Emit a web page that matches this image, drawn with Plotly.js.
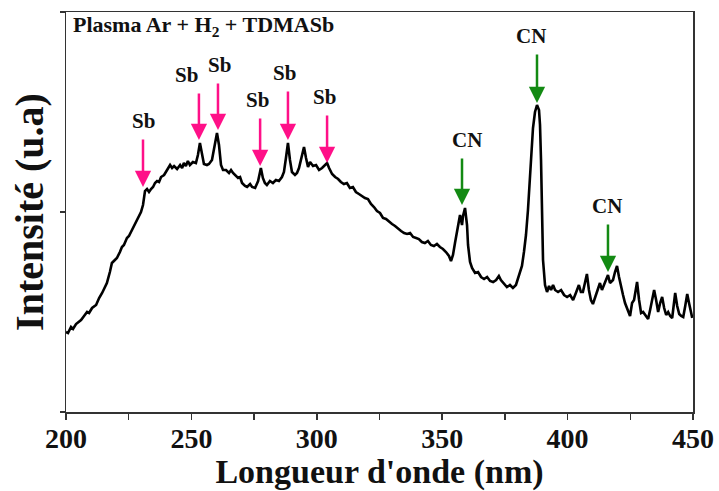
<!DOCTYPE html>
<html>
<head>
<meta charset="utf-8">
<script src="https://cdn.plot.ly/plotly-3.0.1.min.js"></script>
<style>html,body{margin:0;padding:0;background:#fff;}#chart{width:719px;height:491px;}</style>
</head>
<body>
<div id="chart"></div>
<script>
// Spectrum: wavelength (nm) and intensity (a.u.)
const wavelength = [200.0,200.8,202.0,202.8,204.0,205.2,206.0,207.2,208.4,209.2,210.4,212.0,213.2,214.4,215.6,216.3,217.5,218.3,219.5,220.3,221.5,222.3,223.1,224.3,225.1,225.9,227.1,228.3,229.1,229.9,230.7,231.5,232.3,233.1,233.9,234.7,235.5,236.3,237.1,237.9,239.1,240.3,241.5,242.3,243.1,244.3,245.5,246.3,247.0,247.8,248.6,249.4,250.6,251.8,252.6,253.4,254.2,255.0,256.2,257.0,258.2,259.4,260.2,261.0,261.8,262.6,263.8,265.0,265.8,266.6,267.8,268.6,269.4,270.2,271.4,272.2,273.4,274.2,275.4,276.6,277.7,278.5,279.3,280.1,281.3,282.5,283.7,284.9,286.1,286.9,287.7,288.5,289.3,290.1,291.3,292.1,292.9,294.1,294.9,295.7,296.5,297.3,298.5,299.7,300.9,302.1,303.3,304.1,304.9,306.1,307.3,308.5,309.6,310.8,312.0,313.2,314.4,315.6,316.8,318.0,319.2,320.4,321.6,322.8,324.0,325.2,326.4,327.6,328.8,330.0,331.2,332.4,333.6,334.8,336.0,337.2,338.4,339.6,340.7,341.9,343.1,344.3,345.5,346.7,347.9,349.1,350.3,351.5,352.7,353.5,354.3,355.1,355.9,356.7,357.1,357.9,358.3,359.1,359.9,360.3,361.1,361.9,363.1,364.3,365.5,366.7,367.9,369.1,370.3,371.5,372.6,373.4,374.6,375.8,377.0,378.2,379.4,380.6,381.8,382.6,383.4,384.2,385.0,385.8,386.2,387.0,387.8,388.6,389.0,389.4,389.8,390.2,391.0,391.8,392.6,393.4,394.2,395.0,396.2,397.4,398.6,399.8,401.0,402.2,403.3,404.5,405.3,406.1,406.9,407.7,408.5,409.3,410.1,411.3,412.1,412.9,413.7,414.9,416.1,416.9,418.1,418.9,419.7,420.5,421.3,422.1,422.9,424.1,424.9,425.7,426.5,427.3,427.7,428.5,429.3,430.1,431.3,432.1,432.9,433.7,434.5,435.3,436.1,436.9,437.7,438.5,439.3,440.1,440.9,441.7,442.5,442.9,443.7,444.5,445.3,446.1,446.9,447.7,448.5,449.3,449.7];
const intensity = [80,79,85,83,88,90,92,96,100,99,104,107,114,119,125,129,140,149,152,154,160,165,167,174,176,180,186,192,195,200,207,221,223,220,223,225,229,231,230,235,237,242,247,244,246,243,247,244,249,246,251,247,250,249,257,269,257,248,247,248,252,267,279,267,247,242,242,239,242,239,236,234,235,229,226,225,228,225,224,231,244,234,229,227,231,229,232,231,235,240,254,269,252,240,237,239,244,257,265,254,245,250,246,247,242,244,247,249,244,238,235,233,230,228,229,224,225,220,218,216,214,213,208,205,201,199,194,193,190,188,186,183,181,179,178,179,175,174,173,170,169,171,167,166,168,165,163,160,156,151,157,169,182,195,197,187,196,204,187,167,150,144,139,140,135,133,135,131,130,132,136,132,128,125,127,124,127,136,146,160,177,202,232,262,284,300,307,302,287,252,202,152,127,120,126,122,127,122,120,122,117,115,117,112,119,127,120,120,129,138,122,112,108,117,124,129,122,130,137,129,132,140,146,135,124,117,109,100,96,109,112,124,130,112,99,100,96,93,102,112,122,112,100,109,115,104,97,100,96,94,112,119,106,98,96,95,106,118,108,98,94];

// Peak identifications
const peakLabels = ["Sb","Sb","Sb","Sb","Sb","Sb","CN","CN","CN"];
const peakWavelength = [230.7,253.0,260.6,277.4,288.5,304.1,357.9,387.8,416.1];
const peakIntensity = [225,272,282,246,272,249,207,309,140];

const xTickVals = [200,250,300,350,400,450];
const xTickText = ["200","250","300","350","400","450"];

const titleText = "Plasma Ar + H<sub>2</sub> + TDMASb";
const xTitle = "Longueur d'onde (nm)";
const yTitle = "Intensité (u.a)";

const serif = "Liberation Serif, Times New Roman, serif";
const pink = "#ff1088";
const green = "#138a13";
const labelDx = [0,-12,2,-3,-3,-3,5,-6,-1];
const arrowLen = [49,48,48,49,50,49,48,50,49];

const annotations = [];
peakLabels.forEach((lab, i) => {
  const col = lab === "Sb" ? pink : green;
  annotations.push({
    x: peakWavelength[i], y: peakIntensity[i], xref: 'x', yref: 'y',
    text: '', showarrow: true, ax: 0, ay: -arrowLen[i],
    arrowcolor: col, arrowwidth: 2.5, arrowhead: 2, arrowsize: 1.3, standoff: 0
  });
  annotations.push({
    x: peakWavelength[i], y: peakIntensity[i], xref: 'x', yref: 'y',
    text: lab, showarrow: false, xshift: labelDx[i], yshift: arrowLen[i] + 3,
    yanchor: 'bottom', xanchor: 'center',
    font: {family: serif, size: 21, color: '#111', weight: 'bold'}
  });
});
annotations.push({
  x: 0, y: 1, xref: 'paper', yref: 'paper', xanchor: 'left', yanchor: 'top',
  xshift: 5, yshift: 2, showarrow: false, text: titleText,
  font: {family: serif, size: 22, color: '#111', weight: 'bold'}
});

const trace = {
  x: wavelength, y: intensity, type: 'scatter', mode: 'lines',
  line: {color: '#000', width: 2.6}, hoverinfo: 'skip'
};

const layout = {
  width: 719, height: 491,
  margin: {l: 66, r: 26, t: 12, b: 79},
  paper_bgcolor: '#fff', plot_bgcolor: '#fff',
  showlegend: false,
  xaxis: {
    range: [200, 450], tickvals: xTickVals, ticktext: xTickText,
    ticks: 'outside', ticklen: 6, tickwidth: 1.5, tickcolor: '#333',
    ticklabelstandoff: -5,
    minor: {tickvals: [225,275,325,375,425], ticks: 'outside', ticklen: 6, tickwidth: 1.5, tickcolor: '#333'},
    showline: true, linecolor: '#333', linewidth: 1.5, mirror: true,
    showgrid: false, zeroline: false, automargin: false,
    tickfont: {family: serif, size: 28, color: '#111', weight: 'bold'},
    title: {text: xTitle, standoff: 7, font: {family: serif, size: 34, color: '#111', weight: 'bold'}}
  },
  yaxis: {
    range: [0, 400], tickvals: [0, 200, 400], showticklabels: false,
    ticks: 'outside', ticklen: 5, tickwidth: 1.5, tickcolor: '#333',
    showline: true, linecolor: '#333', linewidth: 1.5, mirror: true,
    showgrid: false, zeroline: false, automargin: false,
    title: {text: yTitle, standoff: 3, font: {family: serif, size: 40, color: '#111', weight: 'bold'}}
  },
  annotations: annotations
};

Plotly.newPlot('chart', [trace], layout, {displayModeBar: false, staticPlot: true});
</script>
</body>
</html>
